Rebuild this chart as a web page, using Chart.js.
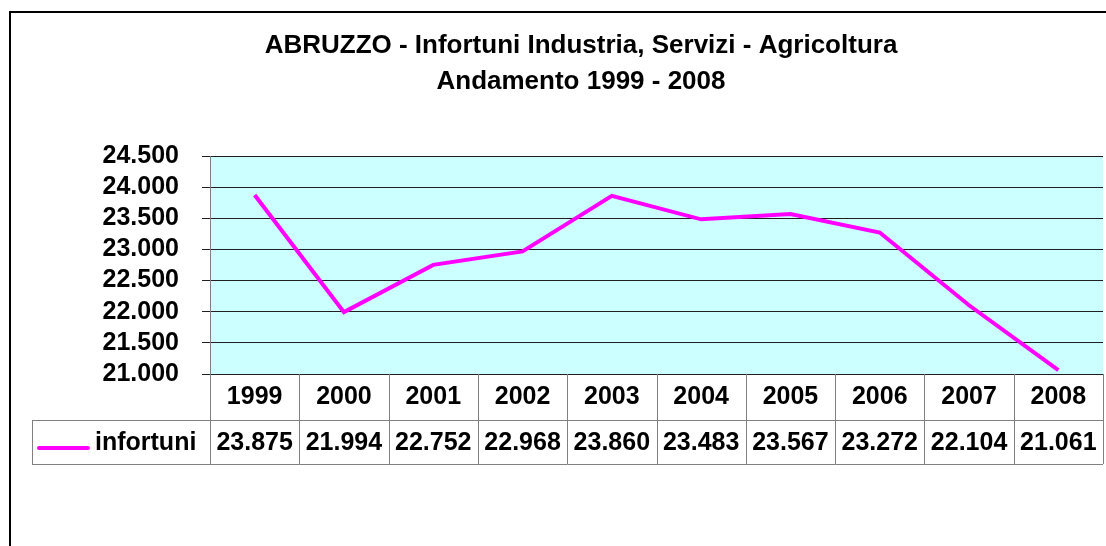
<!DOCTYPE html>
<html><head><meta charset="utf-8">
<script src="https://cdn.jsdelivr.net/npm/chart.js@4.4.1/dist/chart.umd.min.js"></script>
<style>html,body{margin:0;padding:0;background:#fff}#wrap{width:1106px;height:546px}</style>
</head><body><div id="wrap"><canvas id="c" width="1106" height="546"></canvas></div>
<script>
const categories = ['1999','2000','2001','2002','2003','2004','2005','2006','2007','2008'];
const infortuni = [23875, 21994, 22752, 22968, 23860, 23483, 23567, 23272, 22104, 21061];
const yTicks = [21000, 21500, 22000, 22500, 23000, 23500, 24000, 24500];
const seriesName = 'infortuni';
const titleLines = ['ABRUZZO - Infortuni Industria, Servizi - Agricoltura', 'Andamento 1999 - 2008'];

const FONT = 'Arial, "Liberation Sans", sans-serif';
function fmt(v){ return String(Math.round(v)).replace(/\B(?=(\d{3})+(?!\d))/g, '.'); }

const framePlugin = {
  id: 'frame',
  beforeDraw(chart){
    const ctx = chart.ctx, a = chart.chartArea;
    ctx.save();
    ctx.fillStyle = '#ffffff';
    ctx.fillRect(0, 0, chart.width, chart.height);
    ctx.fillStyle = '#CCFFFF';
    ctx.fillRect(a.left, a.top, a.right - a.left, a.bottom - a.top);
    ctx.strokeStyle = '#000000';
    ctx.lineWidth = 2;
    ctx.strokeRect(10, 12, chart.width + 40, chart.height + 40);
    ctx.restore();
  },
  afterDraw(chart){
    const ctx = chart.ctx, a = chart.chartArea, xs = chart.scales.x;
    const n = categories.length;
    const colW = (a.right - a.left) / n;
    const rowTop = a.bottom, rowMid = xs.bottom, rowBot = rowMid + 44;
    const legLeft = 32;
    ctx.save();
    ctx.strokeStyle = '#808080';
    ctx.lineWidth = 1;
    ctx.beginPath();
    ctx.moveTo(legLeft, Math.round(rowMid) + 0.5); ctx.lineTo(a.right, Math.round(rowMid) + 0.5);
    ctx.moveTo(legLeft, Math.round(rowBot) + 0.5); ctx.lineTo(a.right, Math.round(rowBot) + 0.5);
    ctx.moveTo(legLeft + 0.5, rowMid); ctx.lineTo(legLeft + 0.5, rowBot);
    for (let i = 0; i <= n; i++) {
      const px = i < n ? xs.getPixelForValue(i) - colW / 2 : xs.getPixelForValue(n - 1) + colW / 2;
      const xx = Math.round(px) + 0.5;
      ctx.moveTo(xx, rowTop); ctx.lineTo(xx, rowBot);
    }
    ctx.stroke();
    const cy = (rowMid + rowBot) / 2;
    ctx.strokeStyle = '#FF00FF';
    ctx.lineWidth = 4;
    ctx.lineCap = 'round';
    ctx.beginPath();
    ctx.moveTo(39, cy + 6); ctx.lineTo(88, cy + 6);
    ctx.stroke();
    ctx.fillStyle = '#000000';
    ctx.font = 'bold 25px ' + FONT;
    ctx.textBaseline = 'middle';
    ctx.textAlign = 'left';
    ctx.fillText(seriesName, 95, cy + 1);
    ctx.textAlign = 'center';
    for (let i = 0; i < n; i++) {
      ctx.fillText(fmt(infortuni[i]), xs.getPixelForValue(i), cy + 1);
    }
    ctx.restore();
  }
};

new Chart(document.getElementById('c'), {
  type: 'line',
  data: {
    labels: categories,
    datasets: [{
      label: seriesName,
      data: infortuni,
      borderColor: '#FF00FF',
      backgroundColor: '#FF00FF',
      borderWidth: 4,
      pointRadius: 0,
      tension: 0,
      fill: false
    }]
  },
  options: {
    responsive: false,
    animation: false,
    devicePixelRatio: 1,
    layout: { padding: { left: 59, right: 3, top: 0, bottom: 126 } },
    plugins: {
      legend: { display: false },
      tooltip: { enabled: false },
      title: {
        display: true,
        text: titleLines,
        color: '#000000',
        font: { family: FONT, size: 26, weight: 'bold', lineHeight: 1.385 },
        padding: { top: 28, bottom: 56 }
      }
    },
    scales: {
      x: {
        offset: true,
        grid: { display: false, drawTicks: false },
        border: { display: true, color: '#202020', width: 1 },
        ticks: { color: '#000000', font: { family: FONT, size: 25, weight: 'bold' }, padding: 8, maxRotation: 0, autoSkip: false },
        afterFit(s){ s.height = 46; }
      },
      y: {
        min: 21000, max: 24500,
        afterBuildTicks(s){ s.ticks = yTicks.map(v => ({ value: v })); },
        grid: { color: '#202020', lineWidth: 1, drawTicks: true, tickLength: 8 },
        border: { display: true, color: '#808080', width: 1 },
        ticks: { color: '#000000', font: { family: FONT, size: 25, weight: 'bold' }, padding: 23, autoSkip: false, callback: v => fmt(v) },
        afterFit(s){ s.width = 151; }
      }
    }
  },
  plugins: [framePlugin]
});
</script>
</body></html>
